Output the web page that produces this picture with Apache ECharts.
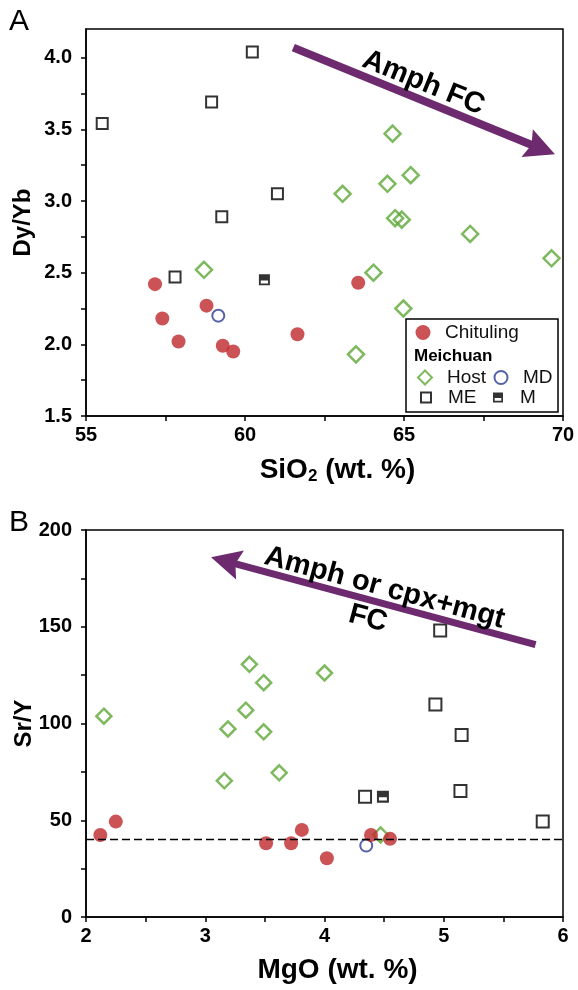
<!DOCTYPE html>
<html>
<head>
<meta charset="utf-8">
<script src="https://cdn.jsdelivr.net/npm/echarts@6/dist/echarts.min.js"></script>
<style>
html,body{margin:0;padding:0;background:#fff;}
#chart{width:578px;height:990px;}
</style>
</head>
<body>
<div id="chart"></div>
<script>
// ---------- Panel A: Dy/Yb vs SiO2 ----------
const chitulingA_SiO2 = [57.17, 57.40, 57.91, 58.79, 59.30, 59.63, 61.65, 63.56];
const chitulingA_DyYb = [2.42, 2.18, 2.02, 2.27, 1.99, 1.95, 2.07, 2.43];
const hostA_SiO2 = [58.71, 63.07, 63.49, 64.04, 64.48, 64.64, 64.72, 64.93, 64.98, 65.21, 67.08, 69.64];
const hostA_DyYb = [2.52, 3.05, 1.93, 2.50, 3.12, 3.47, 2.88, 2.87, 2.25, 3.18, 2.77, 2.60];
const meA_SiO2 = [55.51, 57.80, 58.95, 59.27, 60.23, 61.02];
const meA_DyYb = [3.54, 2.47, 3.69, 2.89, 4.04, 3.05];
const mA_SiO2 = [60.61];
const mA_DyYb = [2.45];
const mdA_SiO2 = [59.16];
const mdA_DyYb = [2.20];
const arrowA = [[61.52, 4.07], [69.31, 3.365]]; // tail, head
const xTicksA = [55, 57.5, 60, 62.5, 65, 67.5, 70];
const xLabelsA = [55, 60, 65, 70];
const yTicksA = [1.5, 1.75, 2.0, 2.25, 2.5, 2.75, 3.0, 3.25, 3.5, 3.75, 4.0];
const yLabelsA = [1.5, 2.0, 2.5, 3.0, 3.5, 4.0];

// ---------- Panel B: Sr/Y vs MgO ----------
const chitulingB_MgO = [2.12, 2.25, 3.51, 3.72, 3.81, 4.02, 4.39, 4.55];
const chitulingB_SrY = [42.4, 49.3, 38.1, 38.1, 45.0, 30.4, 42.4, 40.4];
const hostB_MgO = [2.15, 3.16, 3.19, 3.34, 3.37, 3.49, 3.49, 3.62, 4.00, 4.47];
const hostB_SrY = [103.8, 70.4, 97.2, 106.9, 130.6, 121.1, 95.7, 74.5, 126.1, 42.4];
const meB_MgO = [4.34, 4.93, 4.97, 5.14, 5.15, 5.83];
const meB_SrY = [62.2, 109.8, 148.1, 65.1, 94.0, 49.3];
const mB_MgO = [4.49];
const mB_SrY = [62.2];
const mdB_MgO = [4.35];
const mdB_SrY = [36.9];
const arrowB = [[5.77, 140.7], [3.17, 183.9]]; // tail, head
const thresholdSrY = 40;
const xTicksB = [2, 2.5, 3, 3.5, 4, 4.5, 5, 5.5, 6];
const xLabelsB = [2, 3, 4, 5, 6];
const yTicksB = [0, 25, 50, 75, 100, 125, 150, 175, 200];
const yLabelsB = [0, 50, 100, 150, 200];

const FONT = 'Liberation Sans, Arial, Helvetica, sans-serif';
const zip = (xs, ys) => xs.map((x, i) => [x, ys[i]]);

const RED = '#BE282C', GREEN = '#5EA838', BLUE = '#2B3A92', PURPLE = '#6D2A6F';
const M_PATH = 'path://M0 0 H10 V10 H0 Z M1.7 5.6 V8.3 H8.3 V5.6 Z';
const HEAD_PATH = 'path://M5 0 L10 10 L5 8.4 L0 10 Z';

function axisCommon(ticks, labels, fmt, margin) {
  return {
    axisLine: {show: true, onZero: false, lineStyle: {color: '#000', width: 1.5}},
    axisTick: {show: true, inside: false, length: 5, customValues: ticks, lineStyle: {color: '#000', width: 1.5}},
    axisLabel: {show: true, customValues: labels, fontFamily: FONT, fontSize: 20, fontWeight: 'bold', color: '#000', margin: margin,
      formatter: fmt || (v => String(v))},
    splitLine: {show: false}
  };
}

const xNameStyle = {fontFamily: FONT, fontSize: 28, fontWeight: 'bold', color: '#000', padding: [0, 0, 0, 26]};
const yNameStyle = {fontFamily: FONT, fontSize: 24, fontWeight: 'bold', color: '#000'};
const annot = {fontFamily: FONT, fontSize: 29, fontWeight: 'bold', color: '#000'};

const chart = echarts.init(document.getElementById('chart'), null, {renderer: 'canvas'});

const legendDefs = [
  {name: 'Chituling', size: 15, cx: 423, cy: 333},
  {name: 'Host', size: 14, cx: 424, cy: 378},
  {name: 'MD', size: 13, cx: 500, cy: 378},
  {name: 'ME', size: 10, cx: 425, cy: 398},
  {name: 'M', size: 10, cx: 498, cy: 398}
];

const gridBase = {left: 86, width: 477, height: 387, show: true, borderColor: '#000', borderWidth: 1.5,
  backgroundColor: 'transparent', containLabel: false, outerBoundsMode: 'none'};

const option = {
  animation: false,
  backgroundColor: '#fff',
  grid: [
    Object.assign({top: 29}, gridBase),
    Object.assign({top: 530}, gridBase)
  ],
  xAxis: [
    Object.assign({type: 'value', gridIndex: 0, min: 55, max: 70,
      name: 'SiO{s|2} (wt. %)', nameLocation: 'middle', nameGap: 39, nameMoveOverlap: false,
      nameTextStyle: Object.assign({}, xNameStyle, {rich: {s: {fontFamily: FONT, fontSize: 17, fontWeight: 'bold', color: '#000', padding: [13, 0, 0, 0]}}})
    }, axisCommon(xTicksA, xLabelsA, null, 9)),
    Object.assign({type: 'value', gridIndex: 1, min: 2, max: 6,
      name: 'MgO (wt. %)', nameLocation: 'middle', nameGap: 39, nameMoveOverlap: false, nameTextStyle: xNameStyle
    }, axisCommon(xTicksB, xLabelsB, null, 9))
  ],
  yAxis: [
    Object.assign({type: 'value', gridIndex: 0, min: 1.5, max: 4.2,
      name: 'Dy/Yb', nameLocation: 'middle', nameGap: 51, nameRotate: 90, nameMoveOverlap: false, nameTextStyle: yNameStyle
    }, axisCommon(yTicksA, yLabelsA, v => Number(v).toFixed(1), 14)),
    Object.assign({type: 'value', gridIndex: 1, min: 0, max: 200,
      name: 'Sr/Y', nameLocation: 'middle', nameGap: 50, nameRotate: 90, nameMoveOverlap: false, nameTextStyle: yNameStyle
    }, axisCommon(yTicksB, yLabelsB, null, 14))
  ],
  legend: legendDefs.map(d => ({
    data: [d.name], orient: 'horizontal', padding: 0, selectedMode: false, z: 5,
    left: d.cx - d.size / 2, top: d.cy - 10,
    itemWidth: d.size, itemHeight: d.size,
    textStyle: {fontFamily: FONT, fontSize: 19, color: '#111', padding: [0, 0, 0, 17 - d.size / 2]}
  })),
  graphic: [
    {type: 'text', left: 9, top: 7, style: {text: 'A', fontFamily: FONT, fontSize: 30, fill: '#000'}},
    {type: 'text', left: 9, top: 508, style: {text: 'B', fontFamily: FONT, fontSize: 30, fill: '#000'}},
    {type: 'rect', z: 3, shape: {x: 406, y: 319, width: 152, height: 93}, style: {fill: '#fff', stroke: '#000', lineWidth: 1.5}},
    {type: 'text', z: 5, left: 414, top: 348, style: {text: 'Meichuan', fontFamily: FONT, fontSize: 17, fontWeight: 'bold', fill: '#000'}}
  ],
  series: [
    // ----- Panel A -----
    {name: 'Host', type: 'scatter', xAxisIndex: 0, yAxisIndex: 0, data: zip(hostA_SiO2, hostA_DyYb),
      symbol: 'diamond', symbolSize: 16, itemStyle: {color: 'rgba(255,255,255,0)', borderColor: GREEN, borderWidth: 2.5}},
    {name: 'ME', type: 'scatter', xAxisIndex: 0, yAxisIndex: 0, data: zip(meA_SiO2, meA_DyYb),
      symbol: 'rect', symbolSize: 11, itemStyle: {color: 'rgba(255,255,255,0)', borderColor: '#000', borderWidth: 2}},
    {name: 'M', type: 'scatter', xAxisIndex: 0, yAxisIndex: 0, data: zip(mA_SiO2, mA_DyYb),
      symbol: M_PATH, symbolSize: 11, itemStyle: {color: '#000'}},
    {name: 'MD', type: 'scatter', xAxisIndex: 0, yAxisIndex: 0, data: zip(mdA_SiO2, mdA_DyYb),
      symbol: 'circle', symbolSize: 12, itemStyle: {color: 'rgba(255,255,255,0)', borderColor: BLUE, borderWidth: 2}},
    {name: 'Chituling', type: 'scatter', xAxisIndex: 0, yAxisIndex: 0, data: zip(chitulingA_SiO2, chitulingA_DyYb),
      symbol: 'circle', symbolSize: 14, itemStyle: {color: RED},
      markLine: {silent: true, animation: false, symbol: ['none', HEAD_PATH], symbolSize: [30, 30],
        lineStyle: {color: PURPLE, width: 8, type: 'solid'},
        label: Object.assign({show: true, position: 'insideMiddleTop', formatter: 'Amph FC', distance: 2}, annot),
        data: [[{coord: arrowA[0]}, {coord: arrowA[1]}]]}},
    // ----- Panel B -----
    {name: 'Host', type: 'scatter', xAxisIndex: 1, yAxisIndex: 1, data: zip(hostB_MgO, hostB_SrY),
      symbol: 'diamond', symbolSize: 15, itemStyle: {color: 'rgba(255,255,255,0)', borderColor: GREEN, borderWidth: 2.5}},
    {name: 'ME', type: 'scatter', xAxisIndex: 1, yAxisIndex: 1, data: zip(meB_MgO, meB_SrY),
      symbol: 'rect', symbolSize: 12, itemStyle: {color: 'rgba(255,255,255,0)', borderColor: '#000', borderWidth: 2}},
    {name: 'M', type: 'scatter', xAxisIndex: 1, yAxisIndex: 1, data: zip(mB_MgO, mB_SrY),
      symbol: M_PATH, symbolSize: 12, itemStyle: {color: '#000'}},
    {name: 'MD', type: 'scatter', xAxisIndex: 1, yAxisIndex: 1, data: zip(mdB_MgO, mdB_SrY),
      symbol: 'circle', symbolSize: 12, itemStyle: {color: 'rgba(255,255,255,0)', borderColor: BLUE, borderWidth: 2}},
    {name: 'Chituling', type: 'scatter', xAxisIndex: 1, yAxisIndex: 1, data: zip(chitulingB_MgO, chitulingB_SrY),
      symbol: 'circle', symbolSize: 14, itemStyle: {color: RED}, z: 3,
      markLine: {silent: true, animation: false, symbol: ['none', 'none'],
        data: [
          {yAxis: thresholdSrY, lineStyle: {color: '#000', width: 1.3, type: [8, 4]}, label: {show: false}},
          [{coord: arrowB[0], symbol: 'none'},
           {coord: arrowB[1], symbol: HEAD_PATH, symbolSize: [30, 30],
            lineStyle: {color: PURPLE, width: 7, type: 'solid'},
            label: Object.assign({show: true, position: 'insideMiddleTop', formatter: 'Amph or cpx+mgt', distance: 1}, annot)}],
          [{coord: arrowB[0], symbol: 'none'},
           {coord: arrowB[1], symbol: 'none',
            lineStyle: {color: 'rgba(0,0,0,0)', width: 0},
            label: Object.assign({show: true, position: 'insideMiddleBottom', formatter: 'FC', distance: 4, padding: [0, 16, 0, 0]}, annot)}]
        ]}}
  ]
};

chart.setOption(option);
</script>
</body>
</html>
